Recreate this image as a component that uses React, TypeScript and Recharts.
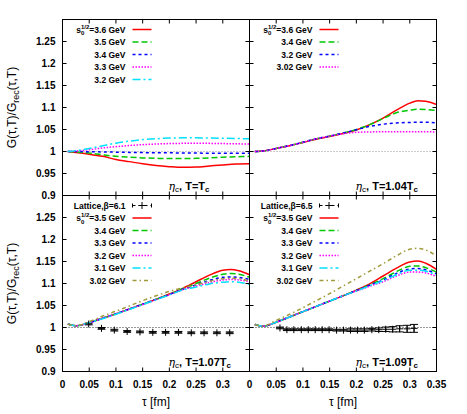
import React from 'react';
import { ComposedChart, Line, Scatter, XAxis, YAxis, ReferenceLine, ErrorBar } from 'recharts';

// ---------- axes ----------
const tauTicks = [0, 0.05, 0.1, 0.15, 0.2, 0.25, 0.3, 0.35];
const ratioTicks = [0.9, 0.95, 1, 1.05, 1.1, 1.15, 1.2, 1.25, 1.3];

// ---------- panel (a): eta_c, T = Tc ----------
const tauA = [0.01, 0.025, 0.05, 0.075, 0.1, 0.125, 0.15, 0.175, 0.2, 0.225, 0.25, 0.275, 0.3, 0.325, 0.35];
const a36 = [1.0, 0.998, 0.994, 0.989, 0.982, 0.977, 0.972, 0.968, 0.9655, 0.964, 0.9645, 0.967, 0.9695, 0.9715, 0.972];
const a35 = [1.0, 0.999, 0.9965, 0.9925, 0.989, 0.987, 0.9855, 0.9845, 0.984, 0.984, 0.9845, 0.9855, 0.987, 0.988, 0.989];
const a34 = [1.0, 1.0, 0.9995, 0.999, 0.9985, 0.998, 0.9975, 0.997, 0.997, 0.9965, 0.9965, 0.996, 0.996, 0.996, 0.996];
const a33 = [1.0, 1.001, 1.004, 1.008, 1.011, 1.0135, 1.0155, 1.017, 1.018, 1.0185, 1.0187, 1.0185, 1.018, 1.0175, 1.017];
const a32 = [1.0, 1.002, 1.007, 1.013, 1.019, 1.0235, 1.027, 1.029, 1.0305, 1.031, 1.031, 1.0307, 1.03, 1.0295, 1.029];

// ---------- common tau grid for panels (b)-(d) ----------
const tauG = [0.01, 0.025, 0.05, 0.075, 0.1, 0.125, 0.15, 0.175, 0.2, 0.225, 0.25, 0.275, 0.3, 0.315, 0.33, 0.35];

// ---------- panel (b): eta_c, T = 1.04 Tc ----------
const b36 = [1.0, 1.001, 1.007, 1.013, 1.0205, 1.028, 1.034, 1.041, 1.049, 1.061, 1.076, 1.094, 1.11, 1.1155, 1.114, 1.107];
const b34 = [1.0, 1.001, 1.007, 1.0135, 1.021, 1.029, 1.035, 1.042, 1.05, 1.061, 1.075, 1.088, 1.094, 1.096, 1.0955, 1.093];
const b32 = [1.0, 1.001, 1.007, 1.0135, 1.021, 1.029, 1.035, 1.042, 1.0495, 1.057, 1.062, 1.065, 1.066, 1.0665, 1.0665, 1.065];
const b302 = [1.0, 1.001, 1.007, 1.0135, 1.021, 1.029, 1.035, 1.0405, 1.0435, 1.0445, 1.045, 1.045, 1.045, 1.045, 1.045, 1.044];

// ---------- panel (c): eta_c, T = 1.07 Tc ----------
const latticeC_tau = [0.049, 0.073, 0.097, 0.121, 0.145, 0.169, 0.193, 0.217, 0.241, 0.265, 0.289, 0.313];
const latticeC_val = [1.008, 0.998, 0.994, 0.991, 0.99, 0.989, 0.989, 0.989, 0.988, 0.988, 0.988, 0.988];
const latticeC_err = [0.002, 0.002, 0.002, 0.002, 0.002, 0.002, 0.002, 0.002, 0.002, 0.002, 0.002, 0.002];
const c35 = [1.008, 1.004, 1.011, 1.021, 1.031, 1.042, 1.053, 1.064, 1.076, 1.089, 1.104, 1.119, 1.13, 1.132, 1.129, 1.12];
const c34 = [1.008, 1.004, 1.011, 1.021, 1.031, 1.042, 1.053, 1.064, 1.075, 1.088, 1.1, 1.112, 1.121, 1.123, 1.121, 1.114];
const c33 = [1.008, 1.004, 1.011, 1.021, 1.031, 1.042, 1.053, 1.064, 1.075, 1.087, 1.097, 1.107, 1.114, 1.115, 1.114, 1.109];
const c32 = [1.008, 1.004, 1.011, 1.021, 1.031, 1.042, 1.052, 1.063, 1.074, 1.086, 1.094, 1.102, 1.108, 1.109, 1.108, 1.104];
const c31 = [1.008, 1.004, 1.011, 1.02, 1.03, 1.041, 1.052, 1.063, 1.074, 1.085, 1.092, 1.099, 1.103, 1.104, 1.103, 1.098];
const c302 = [1.008, 1.004, 1.013, 1.026, 1.037, 1.049, 1.061, 1.072, 1.082, 1.09, 1.097, 1.105, 1.111, 1.112, 1.111, 1.106];

// ---------- panel (d): eta_c, T = 1.09 Tc ----------
const latticeD_tau = [0.057, 0.07, 0.083, 0.097, 0.11, 0.123, 0.136, 0.149, 0.163, 0.176, 0.189, 0.202, 0.215, 0.229, 0.242, 0.255, 0.268, 0.281, 0.295, 0.308];
const latticeD_val = [0.999, 0.995, 0.995, 0.995, 0.995, 0.995, 0.995, 0.995, 0.994, 0.994, 0.994, 0.994, 0.994, 0.995, 0.995, 0.996, 0.996, 0.997, 0.997, 0.998];
const latticeD_err = [0.002, 0.002, 0.002, 0.002, 0.002, 0.002, 0.002, 0.002, 0.002, 0.002, 0.003, 0.003, 0.003, 0.003, 0.004, 0.005, 0.006, 0.007, 0.008, 0.009];
const d35 = [1.007, 1.003, 1.012, 1.024, 1.036, 1.048, 1.06, 1.072, 1.085, 1.099, 1.117, 1.135, 1.149, 1.151, 1.146, 1.132];
const d34 = [1.007, 1.003, 1.012, 1.024, 1.036, 1.048, 1.06, 1.072, 1.084, 1.097, 1.111, 1.127, 1.139, 1.14, 1.136, 1.126];
const d33 = [1.007, 1.003, 1.012, 1.024, 1.036, 1.048, 1.06, 1.072, 1.084, 1.096, 1.108, 1.123, 1.133, 1.134, 1.131, 1.122];
const d32 = [1.007, 1.003, 1.012, 1.024, 1.036, 1.048, 1.06, 1.072, 1.083, 1.094, 1.104, 1.117, 1.126, 1.126, 1.124, 1.116];
const d31 = [1.007, 1.003, 1.012, 1.024, 1.036, 1.048, 1.06, 1.072, 1.083, 1.095, 1.106, 1.12, 1.13, 1.13, 1.128, 1.119];
const d302 = [1.007, 1.003, 1.016, 1.03, 1.045, 1.061, 1.077, 1.094, 1.111, 1.128, 1.145, 1.163, 1.178, 1.18, 1.176, 1.163];

// ---------- labels ----------
const labelsA = ['3.6 GeV', '3.5 GeV', '3.4 GeV', '3.3 GeV', '3.2 GeV'];
const labelsB = ['3.6 GeV', '3.4 GeV', '3.2 GeV', '3.02 GeV'];
const labelsCD = ['3.5 GeV', '3.4 GeV', '3.3 GeV', '3.2 GeV', '3.1 GeV', '3.02 GeV'];

const zip = (t: number[], v: number[]) => t.map((x, i) => ({ t: x, v: v[i] }));
const zip3 = (t: number[], v: number[], e: number[]) => t.map((x, i) => ({ t: x, v: v[i], e: e[i] }));

// ---------- styles ----------
const FONT = '"Liberation Sans", Arial, Helvetica, sans-serif';
type Sty = { color: string; dash?: string };
const STY: Record<string, Sty> = {
  red: { color: '#ff0000' },
  green: { color: '#00c800', dash: '6 3' },
  blue: { color: '#0000ff', dash: '3 3' },
  magenta: { color: '#ff00ff', dash: '1.5 1.5' },
  cyan: { color: '#00e0ff', dash: '8 3 2 3' },
  olive: { color: '#a09a3c', dash: '4 3 1.5 3' },
};

const W = 467;
const H = 414;
const PW = 187;
const PH = 176;
const X0 = 62.5;
const X1 = 249.5;
const Y0 = 19.5;
const Y1 = 195.5;
// axis band sizes (the plot area is placed exactly by margins + these)
const AX_B = 30;
const AX_T = 10;
const AX_L = 40;
const AX_R = 10;

type Series = { data: { t: number; v: number }[]; sty: Sty };

const fmt = (v: number) => String(Math.round(v * 100) / 100);

function Panel(props: {
  left: number;
  top: number;
  series: Series[];
  lattice?: { t: number; v: number; e: number }[];
  xLabels: (v: number) => boolean;
  yLabels: (v: number) => boolean;
  refColor: string;
}) {
  const { left, top, series, lattice, xLabels, yLabels, refColor } = props;
  const tickStyle = { fontFamily: FONT, fontSize: 10, fontWeight: 700, fill: '#000' } as const;
  const bottomTick = (p: any) => (
    <g>
      <line x1={p.x} x2={p.x} y1={p.y} y2={p.y - 4} stroke="#000" />
      {xLabels(p.payload.value) && (
        <text x={p.x} y={p.y + 16} textAnchor="middle" style={tickStyle}>
          {fmt(p.payload.value)}
        </text>
      )}
    </g>
  );
  const topTick = (p: any) => <line x1={p.x} x2={p.x} y1={p.y} y2={p.y + 4} stroke="#000" />;
  const leftTick = (p: any) => (
    <g>
      <line x1={p.x} x2={p.x + 4} y1={p.y} y2={p.y} stroke="#000" />
      {yLabels(p.payload.value) && (
        <text x={p.x - 7} y={p.y + 3.6} textAnchor="end" style={tickStyle}>
          {fmt(p.payload.value)}
        </text>
      )}
    </g>
  );
  const rightTick = (p: any) => <line x1={p.x} x2={p.x - 4} y1={p.y} y2={p.y} stroke="#000" />;
  const cross = (p: any) => (
    <path d={`M${p.cx - 3.5},${p.cy}h7M${p.cx},${p.cy - 3.5}v7`} stroke="#000" strokeWidth={1} fill="none" />
  );
  const margin = {
    left: left - AX_L,
    top: top - AX_T,
    right: W - left - PW - AX_R,
    bottom: H - top - PH - AX_B,
  };
  return (
    <div style={{ position: 'absolute', left: 0, top: 0, width: W, height: H }}>
      <ComposedChart width={W} height={H} margin={margin} style={{ overflow: 'visible' }}>
        <XAxis xAxisId="b" dataKey="t" type="number" domain={[0, 0.35]} ticks={tauTicks} interval={0}
          height={AX_B} tickSize={0} tickMargin={0} axisLine={false} tickLine={false} tick={bottomTick}
          orientation="bottom" allowDataOverflow />
        <XAxis xAxisId="t" dataKey="t" type="number" domain={[0, 0.35]} ticks={tauTicks} interval={0}
          height={AX_T} tickSize={0} tickMargin={0} axisLine={false} tickLine={false} tick={topTick}
          orientation="top" allowDataOverflow />
        <YAxis yAxisId="l" type="number" domain={[0.9, 1.3]} ticks={ratioTicks} interval={0}
          width={AX_L} tickSize={0} tickMargin={0} axisLine={false} tickLine={false} tick={leftTick}
          orientation="left" allowDataOverflow />
        <YAxis yAxisId="r" type="number" domain={[0.9, 1.3]} ticks={ratioTicks} interval={0}
          width={AX_R} tickSize={0} tickMargin={0} axisLine={false} tickLine={false} tick={rightTick}
          orientation="right" allowDataOverflow />
        <ReferenceLine xAxisId="b" yAxisId="l" y={1} stroke={refColor} strokeDasharray="1 2" strokeWidth={1} />
        {lattice && (
          <Scatter xAxisId="b" yAxisId="l" data={lattice} dataKey="v" shape={cross} isAnimationActive={false}>
            <ErrorBar dataKey="e" direction="y" width={4} stroke="#000" strokeWidth={1} isAnimationActive={false} />
          </Scatter>
        )}
        {series.map((s, i) => (
          <Line key={i} xAxisId="b" yAxisId="l" data={s.data} dataKey="v" type="monotone" dot={false}
            stroke={s.sty.color} strokeDasharray={s.sty.dash} strokeWidth={1.5} isAnimationActive={false} />
        ))}
      </ComposedChart>
    </div>
  );
}

function S0(props: { x: number; y: number; value: string }) {
  const { x, y, value } = props;
  return (
    <text x={x} y={y} textAnchor="end" style={{ fontFamily: FONT, fontSize: 8.5, fontWeight: 700 }}>
      s<tspan dy={2.5} fontSize={6}>0</tspan>
      <tspan dx={-3.3} dy={-6.5} fontSize={6}>1/2</tspan>
      <tspan dy={4}>={value}</tspan>
    </text>
  );
}

function Legend(props: { px: number; py: number; labels: string[]; stys: Sty[]; lattice?: string }) {
  const { px, py, labels, stys, lattice } = props;
  const rows: React.ReactNode[] = [];
  let r = 0;
  const rowY = (i: number) => py + 10 + 12.5 * i;
  if (lattice) {
    const y = rowY(0);
    rows.push(
      <g key="lat">
        <text x={px + 63} y={y + 3} textAnchor="end" style={{ fontFamily: FONT, fontSize: 8.5, fontWeight: 700 }}>
          {lattice}
        </text>
        <line x1={px + 70} x2={px + 89} y1={y} y2={y} stroke="#000" strokeDasharray="3 3" />
        <line x1={px + 70} x2={px + 70} y1={y - 2} y2={y + 2} stroke="#000" />
        <line x1={px + 89} x2={px + 89} y1={y - 2} y2={y + 2} stroke="#000" />
        <path d={`M${px + 76},${y}h7M${px + 79.5},${y - 3.5}v7`} stroke="#000" />
      </g>
    );
    r = 1;
  }
  labels.forEach((lab, i) => {
    const y = rowY(i + r);
    const sty = stys[i];
    rows.push(
      <g key={i}>
        {i === 0 ? (
          <S0 x={px + 63} y={y + 3} value={lab} />
        ) : (
          <text x={px + 63} y={y + 3} textAnchor="end" style={{ fontFamily: FONT, fontSize: 8.5, fontWeight: 700 }}>
            {lab}
          </text>
        )}
        <line x1={px + 70} x2={px + 89} y1={y} y2={y} stroke={sty.color} strokeDasharray={sty.dash} strokeWidth={1.5} />
      </g>
    );
  });
  return <g>{rows}</g>;
}

function Note(props: { x: number; y: number; temp: string }) {
  const { x, y, temp } = props;
  return (
    <text x={x} y={y} style={{ fontFamily: FONT, fontSize: 11, fontWeight: 700 }}>
      <tspan style={{ fontFamily: '"DejaVu Serif", serif', fontWeight: 400, fontStyle: 'italic' }}>η</tspan>
      <tspan dy={2.5} fontSize={8} style={{ fontWeight: 400 }}>c</tspan>
      <tspan dy={-2.5}>, T={temp}T</tspan>
      <tspan dy={2.5} fontSize={8}>c</tspan>
    </text>
  );
}

function YTitle(props: { cy: number }) {
  return (
    <text transform={`translate(16, ${props.cy}) rotate(-90)`} textAnchor="middle"
      style={{ fontFamily: FONT, fontSize: 12 }}>
      G(τ,T)/G<tspan dy={2.5} fontSize={9}>rec</tspan>
      <tspan dy={-2.5}>(τ,T)</tspan>
    </text>
  );
}

export default function App() {
  const sA: Series[] = [
    { data: zip(tauA, a36), sty: STY.red },
    { data: zip(tauA, a35), sty: STY.green },
    { data: zip(tauA, a34), sty: STY.blue },
    { data: zip(tauA, a33), sty: STY.magenta },
    { data: zip(tauA, a32), sty: STY.cyan },
  ];
  const sB: Series[] = [
    { data: zip(tauG, b36), sty: STY.red },
    { data: zip(tauG, b34), sty: STY.green },
    { data: zip(tauG, b32), sty: STY.blue },
    { data: zip(tauG, b302), sty: STY.magenta },
  ];
  const stysCD = [STY.red, STY.green, STY.blue, STY.magenta, STY.cyan, STY.olive];
  const sC: Series[] = [c35, c34, c33, c32, c31, c302].map((v, i) => ({ data: zip(tauG, v), sty: stysCD[i] }));
  const sD: Series[] = [d35, d34, d33, d32, d31, d302].map((v, i) => ({ data: zip(tauG, v), sty: stysCD[i] }));

  const none = () => false;
  const yL = (v: number) => v < 1.29;
  const xLeft = (v: number) => v < 0.34;
  const xAll = () => true;

  return (
    <div style={{ position: 'absolute', left: 0, top: 0, width: W, height: H, background: '#fff' }}>
      <Panel left={X0} top={Y0} series={sA} xLabels={none} yLabels={yL} refColor="#999" />
      <Panel left={X1} top={Y0} series={sB} xLabels={none} yLabels={none} refColor="#999" />
      <Panel left={X0} top={Y1} series={sC} lattice={zip3(latticeC_tau, latticeC_val, latticeC_err)}
        xLabels={xLeft} yLabels={yL} refColor="#333" />
      <Panel left={X1} top={Y1} series={sD} lattice={zip3(latticeD_tau, latticeD_val, latticeD_err)}
        xLabels={xAll} yLabels={none} refColor="#333" />
      <svg width={W} height={H} style={{ position: 'absolute', left: 0, top: 0, pointerEvents: 'none' }}>
        <rect x={X0} y={Y0} width={PW} height={PH} fill="none" stroke="#000" />
        <rect x={X1} y={Y0} width={PW} height={PH} fill="none" stroke="#000" />
        <rect x={X0} y={Y1} width={PW} height={PH} fill="none" stroke="#000" />
        <rect x={X1} y={Y1} width={PW} height={PH} fill="none" stroke="#000" />
        <Legend px={X0} py={Y0} labels={labelsA} stys={[STY.red, STY.green, STY.blue, STY.magenta, STY.cyan]} />
        <Legend px={X1} py={Y0} labels={labelsB} stys={[STY.red, STY.green, STY.blue, STY.magenta]} />
        <Legend px={X0} py={Y1} labels={labelsCD} stys={stysCD} lattice="Lattice,β=6.1" />
        <Legend px={X1} py={Y1} labels={labelsCD} stys={stysCD} lattice="Lattice,β=6.5" />
        <Note x={X0 + 106} y={Y0 + PH - 6} temp="" />
        <Note x={X1 + 106} y={Y0 + PH - 6} temp="1.04" />
        <Note x={X0 + 106} y={Y1 + PH - 6} temp="1.07" />
        <Note x={X1 + 106} y={Y1 + PH - 6} temp="1.09" />
        <YTitle cy={Y0 + PH / 2} />
        <YTitle cy={Y1 + PH / 2} />
        <text x={X0 + PW / 2} y={406} textAnchor="middle" style={{ fontFamily: FONT, fontSize: 12 }}>τ [fm]</text>
        <text x={X1 + PW / 2} y={406} textAnchor="middle" style={{ fontFamily: FONT, fontSize: 12 }}>τ [fm]</text>
      </svg>
    </div>
  );
}
